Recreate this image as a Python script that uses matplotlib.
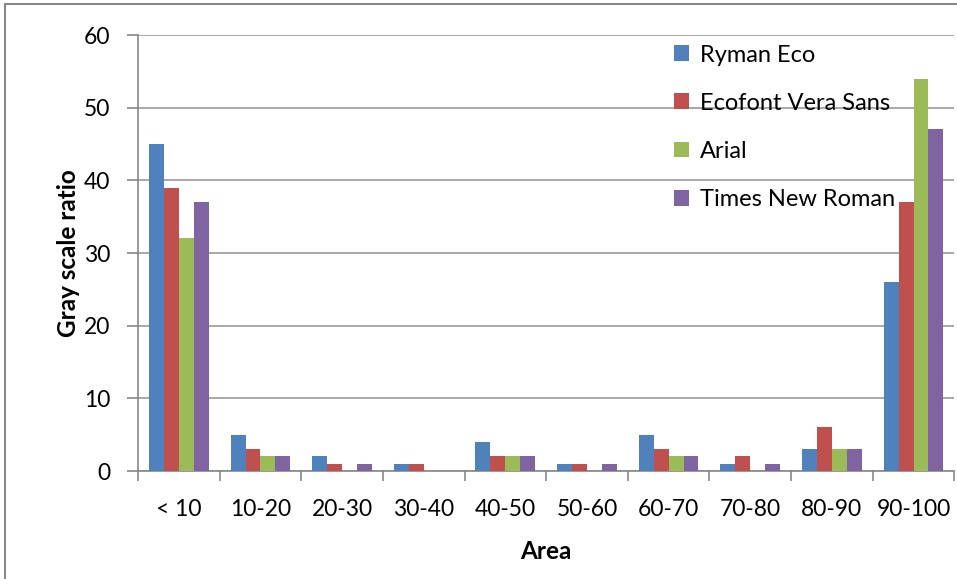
import numpy as np
import matplotlib
matplotlib.use("Agg")
import matplotlib.pyplot as plt
from matplotlib.patches import Rectangle

plt.rcParams['font.family'] = ['Lato', 'DejaVu Sans']

areas = ['< 10', '10-20', '20-30', '30-40', '40-50', '50-60', '60-70', '70-80', '80-90', '90-100']
ryman = [45, 5, 2, 1, 4, 1, 5, 1, 3, 26]
ecofont = [39, 3, 1, 1, 2, 1, 3, 2, 6, 37]
arial = [32, 2, 0, 0, 2, 0, 2, 0, 3, 54]
times = [37, 2, 1, 0, 2, 1, 2, 1, 3, 47]

series = [('Ryman Eco', ryman, '#4F81BD'),
          ('Ecofont Vera Sans', ecofont, '#C0504D'),
          ('Arial', arial, '#9BBB59'),
          ('Times New Roman', times, '#8064A2')]

fig = plt.figure(figsize=(9.57, 5.79), dpi=100)
ax = fig.add_axes([0.1442, 0.1865, 0.853, 0.753])

x = np.arange(len(areas))
w = 0.183
for i, (name, vals, col) in enumerate(series):
    ax.bar(x + (i - 1.5) * w, vals, w, color=col, label=name, zorder=3)

ax.set_xlim(-0.5, len(areas) - 0.5)
ax.set_ylim(0, 60)
ax.set_yticks(range(0, 61, 10))
ax.yaxis.grid(True, color='#999999', linewidth=1.2, zorder=0)
ax.set_xticks(x)
ax.set_xticklabels(areas)
ax.set_xticks(np.arange(-0.5, len(areas), 1), minor=True)
ax.tick_params(axis='x', which='major', length=0, pad=28, labelsize=16.5)
ax.tick_params(axis='x', which='minor', length=7, color='#888888', width=1.2)
ax.tick_params(axis='y', length=8, color='#888888', width=1.2, labelsize=16.5, pad=12)
for lbl in ax.get_xticklabels():
    lbl.set_verticalalignment('center')

for s in ['top', 'right']:
    ax.spines[s].set_visible(False)
for s in ['left', 'bottom']:
    ax.spines[s].set_color('#888888')
    ax.spines[s].set_linewidth(1.2)

ax.set_xlabel('Area', fontsize=17.5, fontweight='bold', labelpad=14)
ax.set_ylabel('Gray scale ratio', fontsize=17.5, fontweight='bold', labelpad=3)

ax.legend(loc='upper left', bbox_to_anchor=(0.63, 1.027), frameon=False,
          fontsize=17, handlelength=0.65, handleheight=0.65, handletextpad=0.45,
          labelspacing=1.15)

fig.patches.append(Rectangle((0.005, -0.1), 1.2, 1.093, transform=fig.transFigure,
                             fill=False, edgecolor='#888888', linewidth=1.5))

plt.savefig('out.png', dpi=100)
plt.close()
